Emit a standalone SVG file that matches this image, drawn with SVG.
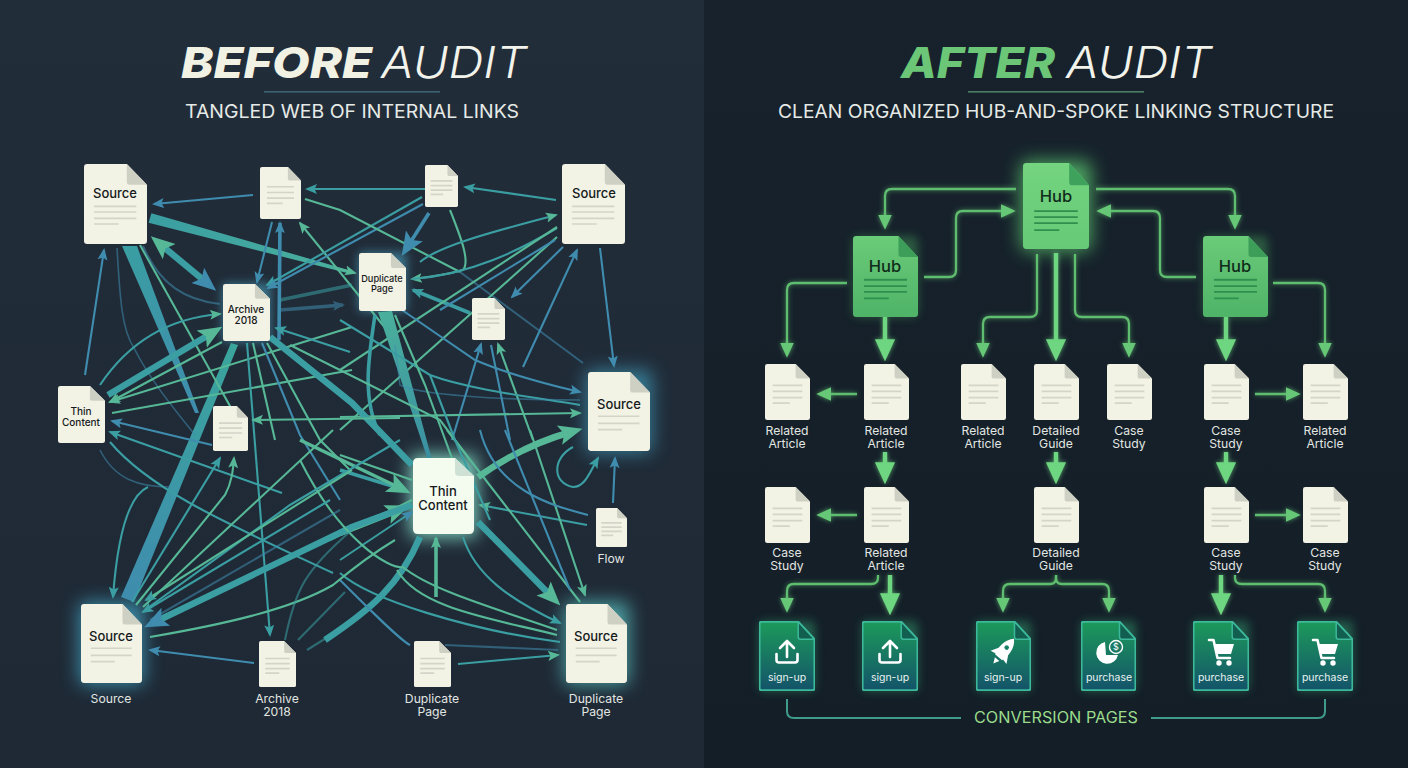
<svg xmlns="http://www.w3.org/2000/svg" width="1408" height="768" viewBox="0 0 1408 768">
<style>
.b{stroke:#3f8cae}.t{stroke:#3a9ea2}.g{stroke:#56b896}
.w1{stroke-width:1.6}.w2{stroke-width:2.1}.w3{stroke-width:3.6}.w4{stroke-width:6.5}
.f{opacity:.55}
#links path{fill:none}
#links path.tp{stroke:none}
#spokes path{fill:none;stroke:#5fbd6f;stroke-width:2.3;stroke-linejoin:round}
#spokes path.k{stroke-width:4.4;stroke:#6ed680}
#bracket path{fill:none;stroke:#3f9c8c;stroke-width:2}
text{font-family:"Inter","Open Sans","Liberation Sans",sans-serif}
.ttl{font-size:43px;font-style:italic;font-weight:800}
.aud{font-size:43px;font-style:italic;font-weight:300;fill:#f2f3ea}
.sub{font-size:19px;fill:#e6eae6;font-weight:400}
.in{font-size:13px;font-weight:500;fill:#15191b;text-anchor:middle}
.in2{font-size:10px;font-weight:500;fill:#15191b;text-anchor:middle}
.in3{font-size:9.2px;font-weight:500;fill:#15191b;text-anchor:middle}
.lb{font-size:12.2px;fill:#e2e6e2;text-anchor:middle}
.hub{font-size:16.5px;font-weight:500;fill:#0f2c1a;text-anchor:middle}
.cv{font-size:10.5px;fill:#e9f3ef;text-anchor:middle}
.pg{fill:#f2f2e5}.fd{fill:#cfd0c4}.ln{stroke:#d3d5c8;stroke-width:1.7;fill:none}
.ln,.hl{vector-effect:non-scaling-stroke}
.hl{stroke:#2f8f4e;stroke-width:1.8;fill:none}
.ic{fill:none;stroke:#fff;stroke-width:2.6;stroke-linecap:round;stroke-linejoin:round}
</style>
<defs>
<linearGradient id="bgL" x1="0" y1="0" x2="0" y2="1"><stop offset="0" stop-color="#222d3a"/><stop offset="1" stop-color="#1e2935"/></linearGradient>
<linearGradient id="bgR" x1="0" y1="0" x2="0" y2="1"><stop offset="0" stop-color="#17222c"/><stop offset="1" stop-color="#131e27"/></linearGradient>
<linearGradient id="hubG" x1="0" y1="0" x2="0" y2="1"><stop offset="0" stop-color="#6acb78"/><stop offset="1" stop-color="#4fb368"/></linearGradient>
<linearGradient id="hubC" x1="0" y1="0" x2="0" y2="1"><stop offset="0" stop-color="#74d480"/><stop offset="1" stop-color="#66ca76"/></linearGradient>
<linearGradient id="cvG" x1="0" y1="0" x2="0" y2="1"><stop offset="0" stop-color="#1c9a5a"/><stop offset="1" stop-color="#14536a"/></linearGradient>
<linearGradient id="tapA" gradientUnits="userSpaceOnUse" x1="128" y1="246" x2="197" y2="413"><stop offset="0" stop-color="#3a9ea2"/><stop offset="1" stop-color="#3f8cae"/></linearGradient>
<linearGradient id="tapB" gradientUnits="userSpaceOnUse" x1="233" y1="343" x2="127" y2="600"><stop offset="0" stop-color="#3aa59c"/><stop offset="1" stop-color="#3f8cae"/></linearGradient>
<linearGradient id="tapC" gradientUnits="userSpaceOnUse" x1="150" y1="218" x2="346" y2="273"><stop offset="0" stop-color="#3a9ea2"/><stop offset="1" stop-color="#4ab09c"/></linearGradient>
<linearGradient id="tapD" gradientUnits="userSpaceOnUse" x1="387" y1="311" x2="430" y2="460"><stop offset="0" stop-color="#4ab09c"/><stop offset="1" stop-color="#3a8fa2"/></linearGradient>
<filter id="blur" x="-60%" y="-60%" width="220%" height="220%"><feGaussianBlur stdDeviation="9"/></filter>
<filter id="blurS" x="-60%" y="-60%" width="220%" height="220%"><feGaussianBlur stdDeviation="5"/></filter>
<filter id="sg" x="-20%" y="-20%" width="140%" height="140%"><feGaussianBlur stdDeviation="2.5" result="a"/><feComponentTransfer in="a" result="c"><feFuncA type="linear" slope=".7"/></feComponentTransfer><feMerge><feMergeNode in="c"/><feMergeNode in="SourceGraphic"/></feMerge></filter>
<marker id="bs" viewBox="0 0 12 12" refX="10" refY="6" markerWidth="12" markerHeight="12" markerUnits="userSpaceOnUse" orient="auto-start-reverse"><path d="M0 1L12 6L0 11L2.5 6Z" fill="#3f8cae"/></marker>
<marker id="ts" viewBox="0 0 12 12" refX="10" refY="6" markerWidth="12" markerHeight="12" markerUnits="userSpaceOnUse" orient="auto-start-reverse"><path d="M0 1L12 6L0 11L2.5 6Z" fill="#3a9ea2"/></marker>
<marker id="gs" viewBox="0 0 12 12" refX="10" refY="6" markerWidth="12" markerHeight="12" markerUnits="userSpaceOnUse" orient="auto-start-reverse"><path d="M0 1L12 6L0 11L2.5 6Z" fill="#56b896"/></marker>
<marker id="bl" viewBox="0 0 12 12" refX="6" refY="6" markerWidth="24" markerHeight="24" markerUnits="userSpaceOnUse" orient="auto-start-reverse"><path d="M0 1L12 6L0 11L2.5 6Z" fill="#3f8cae"/></marker>
<marker id="tl" viewBox="0 0 12 12" refX="6" refY="6" markerWidth="24" markerHeight="24" markerUnits="userSpaceOnUse" orient="auto-start-reverse"><path d="M0 1L12 6L0 11L2.5 6Z" fill="#3a9ea2"/></marker>
<marker id="gl" viewBox="0 0 12 12" refX="6" refY="6" markerWidth="24" markerHeight="24" markerUnits="userSpaceOnUse" orient="auto-start-reverse"><path d="M0 1L12 6L0 11L2.5 6Z" fill="#56b896"/></marker>
<marker id="as" viewBox="0 0 12 12" refX="9" refY="6" markerWidth="15" markerHeight="15" markerUnits="userSpaceOnUse" orient="auto"><path d="M0 0.5L12 6L0 11.5L0 6Z" fill="#66c877"/></marker>
<marker id="al" viewBox="0 0 12 12" refX="8" refY="6" markerWidth="22" markerHeight="22" markerUnits="userSpaceOnUse" orient="auto"><path d="M0 0.5L12 6L0 11.5L0 6Z" fill="#6ed680"/></marker>
<symbol id="d" viewBox="0 0 100 100" preserveAspectRatio="none"><path class="pg" d="M5 0H68L100 26V96Q100 100 95 100H5Q0 100 0 96V4Q0 0 5 0Z"/><path class="fd" d="M68 0L100 26H72Q68 26 68 22Z"/></symbol>
<symbol id="dB" viewBox="0 0 100 100" preserveAspectRatio="none"><path class="pg" d="M5 0H68L100 26V96Q100 100 95 100H5Q0 100 0 96V4Q0 0 5 0Z"/><path class="fd" d="M68 0L100 26H72Q68 26 68 22Z"/><path class="ln" d="M17 38H83M17 49H83M17 60H83M17 70H55"/></symbol>
<symbol id="dS" viewBox="0 0 100 100" preserveAspectRatio="none"><path class="pg" d="M5 0H68L100 26V96Q100 100 95 100H5Q0 100 0 96V4Q0 0 5 0Z"/><path class="fd" d="M68 0L100 26H72Q68 26 68 22Z"/><path class="ln" d="M16 53H83M16 60H83M16 68H83M16 75H55"/></symbol>
<symbol id="dG" viewBox="0 0 100 100" preserveAspectRatio="none"><path class="pg" d="M5 0H68L100 26V96Q100 100 95 100H5Q0 100 0 96V4Q0 0 5 0Z"/><path class="fd" d="M68 0L100 26H72Q68 26 68 22Z"/><path class="ln" d="M16 56H83M16 65H83M16 73H55"/></symbol>
<symbol id="hL" viewBox="0 0 100 100" preserveAspectRatio="none"><path fill="url(#hubG)" d="M5 0H70L100 26V96Q100 100 95 100H5Q0 100 0 96V4Q0 0 5 0Z"/><path fill="#3c9e58" d="M70 0L100 26H74Q70 26 70 22Z"/><path class="hl" d="M17 54H83M17 62H83M17 69H83M17 77H55"/></symbol>
<symbol id="hC" viewBox="0 0 100 100" preserveAspectRatio="none"><path fill="url(#hubC)" d="M5 0H70L100 26V96Q100 100 95 100H5Q0 100 0 96V4Q0 0 5 0Z"/><path fill="#3fa25c" d="M70 0L100 26H74Q70 26 70 22Z"/><path class="hl" d="M17 56H83M17 63H83M17 70H83M17 78H55"/></symbol>
<symbol id="cD" viewBox="0 0 100 100" preserveAspectRatio="none"><path fill="url(#cvG)" stroke="#3cb89a" stroke-width="2" vector-effect="non-scaling-stroke" d="M5 1H70L99 26V96Q99 99 95 99H5Q1 99 1 96V4Q1 1 5 1Z"/><path fill="#125f50" stroke="#3cb89a" stroke-width="1.5" vector-effect="non-scaling-stroke" d="M70 1L99 26H74Q70 26 70 22Z"/></symbol>
<g id="icUp" class="ic"><path d="M0 -11V5M-7 -4L0 -11L7 -4"/><path d="M-10.5 2V8Q-10.5 10.5 -8 10.5H8Q10.5 10.5 10.5 8V2"/></g>
<g id="icCart"><path class="ic" d="M-12 -12H-7.5L-3.5 6H9"/><path fill="#fff" d="M-7 -8H13L10 2H-4.5Z"/><circle cx="-2" cy="11" r="2.7" fill="#fff"/><circle cx="8" cy="11" r="2.7" fill="#fff"/></g>
</defs>

<rect width="704" height="768" fill="url(#bgL)"/>
<rect x="704" width="704" height="768" fill="url(#bgR)"/>

<g id="titles">
<text class="ttl" x="181" y="78" fill="#f1f2e4" textLength="191" lengthAdjust="spacingAndGlyphs">BEFORE</text>
<text class="aud" x="381" y="78" textLength="146" lengthAdjust="spacingAndGlyphs">AUDIT</text>
<rect x="264" y="91" width="176" height="1.6" fill="#3c6272"/>
<text class="sub" x="185" y="118" textLength="334" lengthAdjust="spacingAndGlyphs">TANGLED WEB OF INTERNAL LINKS</text>
<text class="ttl" x="901" y="78" fill="#6cc678" textLength="154" lengthAdjust="spacingAndGlyphs">AFTER</text>
<text class="aud" x="1066" y="78" textLength="146" lengthAdjust="spacingAndGlyphs">AUDIT</text>
<rect x="968" y="91" width="176" height="1.6" fill="#4f7d64"/>
<text class="sub" x="778" y="118" textLength="556" lengthAdjust="spacingAndGlyphs">CLEAN ORGANIZED HUB-AND-SPOKE LINKING STRUCTURE</text>
</g>

<g id="glows">
<rect x="222" y="283" width="49" height="59" rx="6" fill="#4fb0cf" opacity=".55" filter="url(#blurS)"/>
<rect x="358" y="252" width="49" height="60" rx="6" fill="#4fb0cf" opacity=".55" filter="url(#blurS)"/>
<rect x="586" y="370" width="66" height="83" rx="6" fill="#46b4d6" opacity=".6" filter="url(#blur)"/>
<rect x="410" y="455" width="67" height="82" rx="6" fill="#8ff0d8" opacity=".85" filter="url(#blur)"/>
<rect x="79" y="602" width="65" height="83" rx="6" fill="#46b4d6" opacity=".7" filter="url(#blur)"/>
<rect x="564" y="602" width="65" height="83" rx="6" fill="#5fd0cf" opacity=".7" filter="url(#blur)"/>
</g>

<g id="links">
<path class="b w2" marker-end="url(#bs)" d="M253 195L154 204"/>
<path class="t w2" marker-end="url(#ts)" d="M425 189L307 189"/>
<path class="t w2" marker-end="url(#ts)" d="M556 200L465 187"/>
<path class="tp" fill="url(#tapC)" style="fill:url(#tapC)" d="M148.6 222.8L151.4 213.2L352 271L351 274Z"/>
<path class="g w1" marker-end="url(#gs)" d="M340 269L355 273"/>
<path class="t w4" marker-start="url(#gl)" marker-end="url(#bl)" d="M160 244L207 283"/>
<path class="tp" style="fill:url(#tapA)" d="M122 246L137 246L199 413L195 413Z"/>
<path class="tp" style="fill:url(#tapB)" d="M231 343L238 345L134 602L121 597Z"/>
<path class="b w1 f" d="M117 248C120 300 122 330 134 348C150 380 175 410 195 435"/>
<path class="g w2" d="M140 245L235 415"/>
<path class="b w2 f" d="M143 246C160 285 185 300 220 304"/>
<path class="b w2" marker-end="url(#bs)" d="M85 375L104 250"/>
<path class="t w2" marker-end="url(#gs)" d="M100 385C130 340 170 318 220 314"/>
<path class="t w4" marker-end="url(#gl)" d="M108 395L212 333"/>
<path class="g w2" marker-end="url(#gs)" d="M222 342L110 402"/>
<path class="g w2" marker-end="url(#gs)" d="M352 327L110 402"/>
<path class="g w2" d="M112 413L352 370"/>
<path class="b w2" marker-end="url(#bs)" d="M212 445L112 421"/>
<path class="t w2" marker-end="url(#ts)" d="M282 493L110 432"/>
<path class="b w2" marker-end="url(#bs)" d="M272 222L257 282"/>
<path class="b w3" marker-end="url(#bs)" d="M279 340L280 223"/>
<path class="g w2" marker-end="url(#gs)" d="M395 340L300 223"/>
<path class="t w2" marker-end="url(#ts)" d="M422 197L267 285"/>
<path class="b w2" marker-end="url(#bs)" d="M423 204L268 288"/>
<path class="g w2" d="M305 199L340 210L460 272"/>
<path class="b w2 f" d="M460 272L583 363"/>
<path class="b w3" marker-end="url(#bl)" d="M429 213L408 246"/>
<path class="g w2" marker-end="url(#gs)" d="M450 210C462 240 470 262 463 270C445 275 430 277 412 279"/>
<path class="t w2" marker-end="url(#gs)" d="M420 262C440 245 500 230 556 215"/>
<path class="t w2" d="M412 279C470 275 520 250 557 228"/>
<path class="t w3" marker-end="url(#ts)" d="M470 313L413 290"/>
<path class="g w2" d="M557 227L340 370"/>
<path class="g w2" d="M557 237L340 430"/>
<path class="b w2" d="M555 240L440 310"/>
<path class="b w2" marker-end="url(#bs)" d="M563 247L512 297"/>
<path class="b w2" marker-start="url(#bs)" d="M577 250L523 367"/>
<path class="b w2" marker-end="url(#bs)" d="M600 248L614 366"/>
<path class="b w2" marker-end="url(#bs)" d="M452 440L481 344"/>
<path class="g w2" marker-end="url(#gs)" d="M533 440L498 344"/>
<path class="b w2" d="M491 345L510 440"/>
<path class="tp" style="fill:url(#tapD)" d="M378 312L392 311L432 460L428 460Z"/>
<path class="t w3" d="M375 315C368 360 362 400 380 435"/>
<path class="b w2" marker-end="url(#bs)" d="M402 310L475 360C510 375 550 385 580 392"/>
<path class="t w2" d="M340 320L430 375C470 390 540 398 580 405"/>
<path class="g w2" marker-end="url(#gs)" d="M340 417L580 413"/>
<path class="b w1 f" d="M395 345L400 385C420 395 500 400 580 400"/>
<path class="g w2" d="M395 315L425 385L460 480"/>
<path class="g w2" d="M290 345L440 420L470 460"/>
<path class="g w2" d="M253 343L275 440"/>
<path class="g w2" d="M267 343L320 440L350 470"/>
<path class="b w2" d="M262 343L300 435L340 500"/>
<path class="t w4" d="M270 337L352 403L412 465"/>
<path class="t w3" marker-end="url(#ts)" d="M340 470L405 490"/>
<path class="g w3" marker-end="url(#gl)" d="M300 440L400 488"/>
<path class="g w2" d="M340 455L412 480"/>
<path class="g w4" marker-end="url(#gl)" d="M340 533L398 510"/>
<path class="t w2" marker-end="url(#bs)" d="M340 560L412 512"/>
<path class="g w2" d="M330 540L412 500"/>
<path class="t w4" d="M420 537C400 585 370 610 325 640"/>
<path class="t w4" marker-end="url(#bl)" d="M412 505L352 527L155 622"/>
<path class="g w3" marker-end="url(#gs)" d="M436 597L436 538"/>
<path class="g w4" marker-end="url(#gl)" d="M478 477C505 458 535 442 571 432"/>
<path class="t w4" marker-end="url(#gl)" d="M478 522L552 597"/>
<path class="t w2" marker-end="url(#ts)" d="M463 537C475 575 510 600 560 623"/>
<path class="t w2" marker-end="url(#gs)" d="M587 525L480 505"/>
<path class="b w2" marker-end="url(#bs)" d="M613 503L615 458"/>
<path class="t w2" marker-end="url(#ts)" d="M573 447C552 458 552 483 573 487C585 487 590 472 598 458"/>
<path class="g w2" d="M447 430L580 602"/>
<path class="g w2" marker-end="url(#gs)" d="M530 430L585 595"/>
<path class="b w2" d="M505 430L570 590"/>
<path class="b w2" d="M480 430C495 490 550 505 588 515"/>
<path class="g w2" d="M403 567C430 590 500 610 557 630"/>
<path class="g w2" d="M397 570C420 610 500 620 557 635"/>
<path class="t w2" d="M340 573C370 600 470 630 560 642"/>
<path class="g w2" d="M300 460C340 540 390 570 403 567"/>
<path class="t w2" marker-end="url(#gs)" d="M458 664L558 655"/>
<path class="b w2 f" d="M445 645L558 650"/>
<path class="b w2" d="M340 580C370 610 400 640 410 645"/>
<path class="b w2" marker-end="url(#bs)" d="M254 663L150 650"/>
<path class="t w2" marker-end="url(#ts)" d="M247 343L270 635"/>
<path class="t w2" marker-end="url(#ts)" d="M148 487C130 495 118 530 113 597"/>
<path class="b w1 f" d="M100 450C115 480 140 487 170 487"/>
<path class="t w2" d="M110 442C150 490 230 525 333 573"/>
<path class="t w2" marker-end="url(#ts)" d="M132 602L220 458"/>
<path class="g w2" marker-end="url(#gs)" d="M136 605L225 495C232 482 233 470 234 458"/>
<path class="g w2" d="M143 607L333 430"/>
<path class="t w2" d="M145 610L290 505L400 440"/>
<path class="g w2" marker-end="url(#ts)" d="M352 470L146 600"/>
<path class="t w2" marker-end="url(#ts)" d="M330 500L143 612"/>
<path class="b w2 f" d="M340 510L150 620"/>
<path class="g w2" d="M150 637C220 625 290 610 333 585C345 575 370 555 395 540"/>
<path class="t w2 f" d="M285 640C295 590 305 570 352 530"/>
<path class="t w2 f" d="M298 640L345 592"/>
<path class="t w2 f" d="M307 650L355 620"/>
<path class="t w3 f" d="M280 300L352 285"/>
<path class="b w3 f" marker-end="url(#bs)" d="M280 310L343 305"/>
<path class="t w2" marker-end="url(#ts)" d="M350 352L276 328"/>
<path class="g w2" marker-end="url(#gs)" d="M400 418L253 420"/>
<path class="t w2" d="M430 375L455 440L490 520"/>
</g>

<g id="n-source-1"><use href="#dS" x="84" y="164" width="63" height="80"/><text class="in" x="115" y="198">Source</text></g>
<g id="n-blank-1"><use href="#dB" x="260" y="167" width="41" height="52"/></g>
<g id="n-blank-2"><use href="#dB" x="425" y="165" width="33" height="42"/></g>
<g id="n-source-2"><use href="#dS" x="562" y="164" width="63" height="80"/><text class="in" x="594" y="198">Source</text></g>
<g id="n-archive-1"><use href="#d" x="223" y="284" width="47" height="57"/><text class="in2" x="246" y="313">Archive</text><text class="in2" x="246" y="324">2018</text></g>
<g id="n-duplicate-1"><use href="#d" x="359" y="253" width="47" height="58"/><text class="in3" x="382" y="282">Duplicate</text><text class="in3" x="382" y="292">Page</text></g>
<g id="n-blank-3"><use href="#dB" x="472" y="298" width="33" height="42"/></g>
<g id="n-thin-1"><use href="#d" x="58" y="386" width="47" height="57"/><text class="in2" x="81" y="415">Thin</text><text class="in2" x="81" y="426">Content</text></g>
<g id="n-blank-4"><use href="#dB" x="213" y="406" width="35" height="45"/></g>
<g id="n-source-3"><use href="#dG" x="588" y="372" width="62" height="79"/><text class="in" x="619" y="409">Source</text></g>
<g id="n-thin-2"><path d="M413 463Q413 458 418 458H455L474 476V529Q474 534 469 534H418Q413 534 413 529Z" fill="#f4fbef"/><path d="M455 458L474 476H459Q455 476 455 472Z" fill="#cfe0d4"/><text class="in" x="443" y="496">Thin</text><text class="in" x="443" y="510">Content</text></g>
<g id="n-flow"><use href="#dB" x="596" y="508" width="31" height="39"/><text class="lb" x="611" y="563">Flow</text></g>
<g id="n-source-4"><use href="#dG" x="81" y="604" width="61" height="79"/><text class="in" x="111" y="641">Source</text><text class="lb" x="111" y="703">Source</text></g>
<g id="n-archive-2"><use href="#dB" x="259" y="641" width="37" height="46"/><text class="lb" x="277" y="703">Archive</text><text class="lb" x="277" y="716">2018</text></g>
<g id="n-duplicate-2"><use href="#dB" x="414" y="641" width="37" height="46"/><text class="lb" x="432" y="703">Duplicate</text><text class="lb" x="432" y="716">Page</text></g>
<g id="n-source-5"><use href="#dG" x="566" y="604" width="61" height="79"/><text class="in" x="596" y="641">Source</text><text class="lb" x="596" y="703">Duplicate</text><text class="lb" x="596" y="716">Page</text></g>

<g id="hubglows">
<rect x="1021" y="161" width="70" height="90" rx="6" fill="#66e07a" opacity=".7" filter="url(#blur)"/>
<rect x="853" y="236" width="65" height="81" rx="6" fill="#55c56a" opacity=".35" filter="url(#blurS)"/>
<rect x="1203" y="236" width="65" height="81" rx="6" fill="#55c56a" opacity=".35" filter="url(#blurS)"/>
<g fill="#3fd08a" opacity=".35" filter="url(#blurS)"><rect x="759" y="621" width="56" height="70" rx="4"/><rect x="862" y="621" width="56" height="70" rx="4"/><rect x="976" y="621" width="55" height="70" rx="4"/><rect x="1081" y="621" width="55" height="70" rx="4"/><rect x="1193" y="621" width="56" height="70" rx="4"/><rect x="1297" y="621" width="56" height="70" rx="4"/></g>
</g>

<g id="spokes" filter="url(#sg)">
<path marker-end="url(#as)" d="M1016 189H892Q885 189 885 196V226"/>
<path marker-end="url(#as)" d="M1096 189H1228Q1235 189 1235 196V226"/>
<path marker-end="url(#as)" d="M924 277H949Q956 277 956 270V218Q956 211 963 211H1012"/>
<path marker-end="url(#as)" d="M1196 277H1167Q1160 277 1160 270V218Q1160 211 1153 211H1100"/>
<path marker-end="url(#as)" d="M847 283H794Q787 283 787 290V354"/>
<path marker-end="url(#as)" d="M1273 283H1318Q1325 283 1325 290V354"/>
<path class="k" marker-end="url(#al)" d="M885 317V354"/>
<path class="k" marker-end="url(#al)" d="M1226 317V354"/>
<path marker-end="url(#as)" d="M1037 254V310Q1037 317 1030 317H990Q983 317 983 324V354"/>
<path class="k" marker-end="url(#al)" d="M1056 253V354"/>
<path marker-end="url(#as)" d="M1075 254V310Q1075 317 1082 317H1122Q1129 317 1129 324V354"/>
<path marker-end="url(#as)" d="M857 394H820"/>
<path marker-end="url(#as)" d="M1255 394H1297"/>
<path class="k" marker-end="url(#al)" d="M885 452V477"/>
<path class="k" marker-end="url(#al)" d="M1056 452V477"/>
<path class="k" marker-end="url(#al)" d="M1226 452V477"/>
<path marker-end="url(#as)" d="M857 515H820"/>
<path marker-end="url(#as)" d="M1255 515H1297"/>
<path marker-end="url(#as)" d="M878 575V578Q878 584 871 584H794Q787 584 787 591V609"/>
<path class="k" marker-end="url(#al)" d="M890 575V608"/>
<path marker-end="url(#as)" d="M1056 575V578Q1056 584 1050 584H1010Q1003 584 1003 591V609"/>
<path marker-end="url(#as)" d="M1056 575V578Q1056 584 1062 584H1102Q1109 584 1109 591V609"/>
<path class="k" marker-end="url(#al)" d="M1221 575V608"/>
<path marker-end="url(#as)" d="M1235 575V578Q1235 584 1242 584H1318Q1325 584 1325 591V609"/>
</g>

<g id="h-center"><use href="#hC" x="1023" y="163" width="66" height="86"/><text class="hub" x="1056" y="202">Hub</text></g>
<g id="h-left"><use href="#hL" x="853" y="236" width="65" height="81"/><text class="hub" x="885" y="272">Hub</text></g>
<g id="h-right"><use href="#hL" x="1203" y="236" width="65" height="81"/><text class="hub" x="1235" y="272">Hub</text></g>

<g id="r1-1"><use href="#dB" x="765" y="364" width="45" height="56"/><text class="lb" x="787" y="435">Related</text><text class="lb" x="787" y="448">Article</text></g>
<g id="r1-2"><use href="#dB" x="864" y="364" width="45" height="56"/><text class="lb" x="886" y="435">Related</text><text class="lb" x="886" y="448">Article</text></g>
<g id="r1-3"><use href="#dB" x="961" y="364" width="45" height="56"/><text class="lb" x="983" y="435">Related</text><text class="lb" x="983" y="448">Article</text></g>
<g id="r1-4"><use href="#dB" x="1034" y="364" width="45" height="56"/><text class="lb" x="1056" y="435">Detailed</text><text class="lb" x="1056" y="448">Guide</text></g>
<g id="r1-5"><use href="#dB" x="1107" y="364" width="45" height="56"/><text class="lb" x="1129" y="435">Case</text><text class="lb" x="1129" y="448">Study</text></g>
<g id="r1-6"><use href="#dB" x="1204" y="364" width="45" height="56"/><text class="lb" x="1226" y="435">Case</text><text class="lb" x="1226" y="448">Study</text></g>
<g id="r1-7"><use href="#dB" x="1303" y="364" width="45" height="56"/><text class="lb" x="1325" y="435">Related</text><text class="lb" x="1325" y="448">Article</text></g>
<g id="r2-1"><use href="#dB" x="765" y="487" width="45" height="56"/><text class="lb" x="787" y="557">Case</text><text class="lb" x="787" y="570">Study</text></g>
<g id="r2-2"><use href="#dB" x="864" y="487" width="45" height="56"/><text class="lb" x="886" y="557">Related</text><text class="lb" x="886" y="570">Article</text></g>
<g id="r2-3"><use href="#dB" x="1034" y="487" width="45" height="56"/><text class="lb" x="1056" y="557">Detailed</text><text class="lb" x="1056" y="570">Guide</text></g>
<g id="r2-4"><use href="#dB" x="1204" y="487" width="45" height="56"/><text class="lb" x="1226" y="557">Case</text><text class="lb" x="1226" y="570">Study</text></g>
<g id="r2-5"><use href="#dB" x="1303" y="487" width="45" height="56"/><text class="lb" x="1325" y="557">Case</text><text class="lb" x="1325" y="570">Study</text></g>

<g id="c1"><use href="#cD" x="759" y="621" width="56" height="70"/><use href="#icUp" transform="translate(787 652)"/><text class="cv" x="787" y="681">sign-up</text></g>
<g id="c2"><use href="#cD" x="862" y="621" width="56" height="70"/><use href="#icUp" transform="translate(890 652)"/><text class="cv" x="890" y="681">sign-up</text></g>
<g id="c3"><use href="#cD" x="976" y="621" width="55" height="70"/><g transform="translate(1003 652) rotate(40) scale(1.15)"><path fill="#fff" d="M0 -15C6 -9 6 -1 4 6H-4C-6 -1 -6 -9 0 -15Z"/><path fill="#fff" d="M-4.5 -2L-9 6L-4 5ZM4.5 -2L9 6L4 5ZM-2.5 8H2.5L0 13Z"/><circle cy="-5" r="2" fill="#1a8266"/></g><text class="cv" x="1003" y="681">sign-up</text></g>
<g id="c4"><use href="#cD" x="1081" y="621" width="55" height="70"/><path fill="#fff" d="M1107 643A11 11 0 1 0 1120 656L1108 656Z" transform="translate(-2 -1)"/><circle cx="1116" cy="647" r="6.5" fill="#1a7a66" stroke="#fff" stroke-width="1.4"/><text x="1116" y="650" font-size="9" fill="#fff" text-anchor="middle">$</text><text class="cv" x="1109" y="681">purchase</text></g>
<g id="c5"><use href="#cD" x="1193" y="621" width="56" height="70"/><use href="#icCart" transform="translate(1221 652)"/><text class="cv" x="1221" y="681">purchase</text></g>
<g id="c6"><use href="#cD" x="1297" y="621" width="56" height="70"/><use href="#icCart" transform="translate(1325 652)"/><text class="cv" x="1325" y="681">purchase</text></g>

<g id="bracket">
<path d="M787 699V711Q787 718 794 718H961"/>
<path d="M1325 699V711Q1325 718 1318 718H1151"/>
</g>
<text id="conv-label" x="974" y="723" font-size="15.5" fill="#9bdc8c" textLength="164" lengthAdjust="spacingAndGlyphs">CONVERSION PAGES</text>
</svg>
